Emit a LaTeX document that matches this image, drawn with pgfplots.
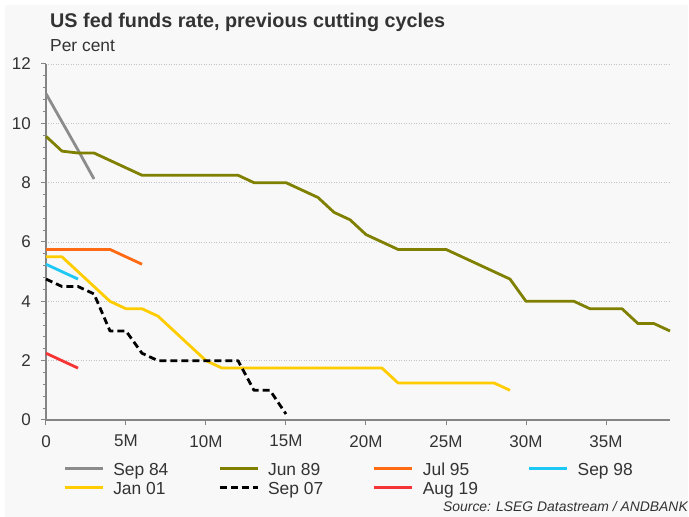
\documentclass[border=0pt]{standalone}
\usepackage{fontspec}
\setmainfont{Liberation Sans}
\usepackage{pgfplots}
\pgfplotsset{compat=1.18}
\definecolor{bg}{HTML}{F8F8F8}
\definecolor{txt}{HTML}{333333}
\definecolor{axgray}{HTML}{858585}
\definecolor{gridgray}{HTML}{C4C4C4}
\definecolor{c84}{HTML}{8C8C8C}
\definecolor{c89}{HTML}{808000}
\definecolor{c95}{HTML}{FF6A13}
\definecolor{c98}{HTML}{1EC8F5}
\definecolor{c01}{HTML}{FFCC00}
\definecolor{c07}{HTML}{000000}
\definecolor{c19}{HTML}{F53535}

\pgfplotstableread{
x y
0 11.0
1 10.05
2 9.1
3 8.125
}\sepEightyFour
\pgfplotstableread{
x y
0 9.5625
1 9.0625
2 9.0
3 9.0
4 8.75
5 8.5
6 8.25
7 8.25
8 8.25
9 8.25
10 8.25
11 8.25
12 8.25
13 8.0
14 8.0
15 8.0
16 7.75
17 7.5
18 7.0
19 6.75
20 6.25
21 6.0
22 5.75
23 5.75
24 5.75
25 5.75
26 5.5
27 5.25
28 5.0
29 4.75
30 4.0
31 4.0
32 4.0
33 4.0
34 3.75
35 3.75
36 3.75
37 3.25
38 3.25
39 3.0
}\junEightyNine
\pgfplotstableread{
x y
0 5.75
1 5.75
2 5.75
3 5.75
4 5.75
5 5.5
6 5.25
}\julNinetyFive
\pgfplotstableread{
x y
0 5.25
1 5.0
2 4.75
}\sepNinetyEight
\pgfplotstableread{
x y
0 5.5
1 5.5
2 5.0
3 4.5
4 4.0
5 3.75
6 3.75
7 3.5
8 3.0
9 2.5
10 2.0
11 1.75
12 1.75
13 1.75
14 1.75
15 1.75
16 1.75
17 1.75
18 1.75
19 1.75
20 1.75
21 1.75
22 1.25
23 1.25
24 1.25
25 1.25
26 1.25
27 1.25
28 1.25
29 1.0
}\janZeroOne
\pgfplotstableread{
x y
0 4.75
1 4.5
2 4.5
3 4.25
4 3.0
5 3.0
6 2.25
7 2.0
8 2.0
9 2.0
10 2.0
11 2.0
12 2.0
13 1.0
14 1.0
15 0.2
}\sepZeroSeven
\pgfplotstableread{
x y
0 2.25
1 2.0
2 1.75
}\augNineteen

\begin{document}
\begin{tikzpicture}
\useasboundingbox (0pt,0pt) rectangle (689pt,517pt);
\fill[white] (0pt,0pt) rectangle (689pt,517pt);
\fill[bg] (5pt,0pt) rectangle (688pt,512pt);
\node[anchor=base west, inner sep=0pt, text=txt, font=\fontsize{19.8pt}{22pt}\selectfont\bfseries] at (50pt,489pt) {US fed funds rate, previous cutting cycles};
\node[anchor=base west, inner sep=0pt, text=txt, font=\fontsize{17.4pt}{20pt}\selectfont] at (50pt,465pt) {Per cent};
\node[anchor=base east, inner sep=0pt, text=txt, font=\fontsize{13.9pt}{16pt}\selectfont\itshape] at (688pt,5pt) {Source: LSEG Datastream / ANDBANK};
\begin{axis}[
  at={(46pt,97pt)}, anchor=south west,
  scale only axis, width=624pt, height=356pt,
  xmin=0, xmax=39, ymin=0, ymax=12,
  axis x line*=bottom, axis y line*=left,
  axis line style={axgray, line width=1.1pt},
  xtick={0,5,...,35}, xticklabels={0,5M,10M,15M,20M,25M,30M,35M},
  ytick={0,2,...,12}, yticklabels={0,2,4,6,8,10,12},
  minor y tick num=4,
  tick align=outside,
  major tick length=5pt, minor tick length=3pt,
  tick style={axgray, line width=1pt},
  ymajorgrids,
  major grid style={gridgray, line width=0.7pt, dash pattern=on 1pt off 1.5pt},
  tick label style={text=txt, font=\fontsize{17pt}{20pt}\selectfont, inner sep=0pt},
  yticklabel style={xshift=-10pt},
  xticklabel style={yshift=-10pt},
  clip=false,
  legend columns=4,
  legend style={at={(axis description cs:0.0277,-0.1096)}, anchor=north west,
    draw=none, fill=none, inner sep=0pt, row sep=1pt,
    nodes={inner sep=0pt, text height=16pt, text depth=2pt, text=txt,
      font=\fontsize{17.4pt}{20pt}\selectfont},
    cells={anchor=center}},
  legend image code/.code={\draw[#1] (0pt,0pt) -- (38pt,0pt);},
  every axis plot/.append style={line width=2.8pt, line join=round},
]
\addplot[c84] table {\sepEightyFour};
\addlegendentry{\makebox[114pt][l]{\hspace{9pt}Sep 84}}
\addplot[c89] table {\junEightyNine};
\addlegendentry{\makebox[114pt][l]{\hspace{9pt}Jun 89}}
\addplot[c95] table {\julNinetyFive};
\addlegendentry{\makebox[114pt][l]{\hspace{9pt}Jul 95}}
\addplot[c98] table {\sepNinetyEight};
\addlegendentry{\makebox[114pt][l]{\hspace{9pt}Sep 98}}
\addplot[c01] table {\janZeroOne};
\addlegendentry{\makebox[114pt][l]{\hspace{9pt}Jan 01}}
\addplot[c07, dash pattern=on 7pt off 4pt] table {\sepZeroSeven};
\addlegendentry{\makebox[114pt][l]{\hspace{9pt}Sep 07}}
\addplot[c19] table {\augNineteen};
\addlegendentry{\makebox[114pt][l]{\hspace{9pt}Aug 19}}
\end{axis}
\end{tikzpicture}
\end{document}
